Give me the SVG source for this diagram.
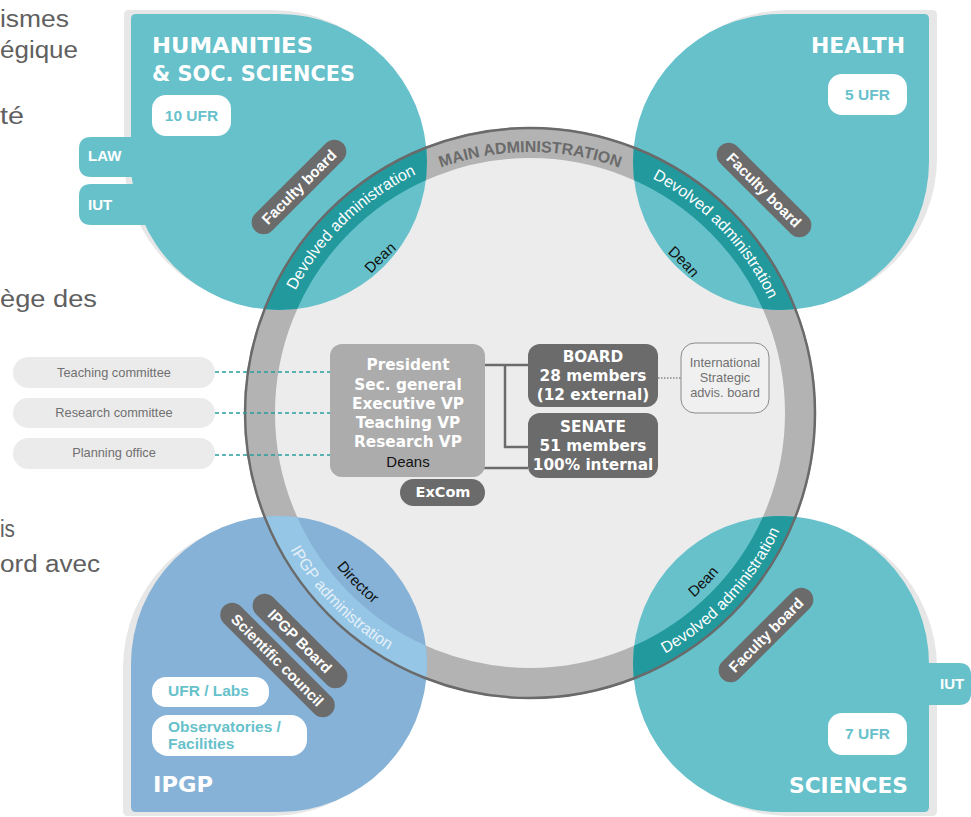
<svg xmlns="http://www.w3.org/2000/svg" xmlns:xlink="http://www.w3.org/1999/xlink" width="971" height="817" viewBox="0 0 971 817">
<defs>
<style>
.bg{font-family:"Liberation Sans",Arial,sans-serif;font-size:23px;fill:#606060}
.title{font-family:"DejaVu Sans",sans-serif;font-weight:bold;font-size:22px;fill:#fff}
.tab{font-family:"Liberation Sans",Arial,sans-serif;font-weight:bold;font-size:15px;fill:#fff}
.ufr{font-family:"Liberation Sans",Arial,sans-serif;font-weight:bold;font-size:15.5px;fill:#67c1cb}
.pill{fill:#6b6b6b}
.ptxt{font-family:"Liberation Sans",Arial,sans-serif;font-weight:bold;font-size:15px;fill:#fff;text-anchor:middle}
.band{font-family:"Liberation Sans",Arial,sans-serif;font-size:16px;fill:#fff;text-anchor:middle}
.dean{font-family:"Liberation Sans",Arial,sans-serif;font-size:15px;fill:#111;text-anchor:middle}
.main{font-family:"Liberation Sans",Arial,sans-serif;font-weight:bold;font-size:16px;fill:#6b6b6b;text-anchor:middle}
.ctr{font-family:"DejaVu Sans",sans-serif;font-weight:bold;font-size:15.3px;fill:#fff;text-anchor:middle}
.cmt{font-family:"Liberation Sans",Arial,sans-serif;font-size:12.8px;fill:#707070;text-anchor:middle}
.lobe{fill:#67c1cb}
.shadow{fill:#e7e7e7}
.cpill{fill:#ebebeb}
.dash{stroke:#2a9d9f;stroke-width:1.5;stroke-dasharray:4 3;fill:none}
.conn{stroke:#6b6b6b;stroke-width:2.5;fill:none}
</style>
<path id="lobeH" d="M 136 14 H 279 A 148 148 0 1 1 131 162 V 19 Q 131 14 136 14 Z"/>
<path id="lobeHe" d="M 780 14 H 924 Q 929 14 929 19 V 162 A 148 148 0 1 1 780 14 Z"/>
<path id="lobeS" d="M 929 664 V 807 Q 929 812 924 812 H 780 A 148 148 0 1 1 929 664 Z"/>
<path id="lobeI" d="M 279 812 H 136 Q 131 812 131 807 V 664 A 148 148 0 1 1 279 812 Z"/>
<clipPath id="clipH"><use xlink:href="#lobeH" href="#lobeH"/></clipPath>
<clipPath id="clipHe"><use xlink:href="#lobeHe" href="#lobeHe"/></clipPath>
<clipPath id="clipS"><use xlink:href="#lobeS" href="#lobeS"/></clipPath>
<clipPath id="clipI"><use xlink:href="#lobeI" href="#lobeI"/></clipPath>
<path id="cw261" d="M 269 413 A 261 261 0 1 1 791 413 A 261 261 0 1 1 269 413"/>
<path id="cw264" d="M 265.5 413 A 264.5 264.5 0 1 1 794.5 413 A 264.5 264.5 0 1 1 265.5 413"/>
<path id="cw212" d="M 319 413 A 211 211 0 1 1 741 413 A 211 211 0 1 1 319 413"/>
<path id="ccw276" d="M 254 413 A 276 276 0 1 0 806 413 A 276 276 0 1 0 254 413"/>
<path id="ccw247" d="M 283 413 A 247 247 0 1 0 777 413 A 247 247 0 1 0 283 413"/>
</defs>

<g id="background-text">
<text class="bg" x="0" y="27" textLength="69" lengthAdjust="spacingAndGlyphs">ismes</text>
<text class="bg" x="0" y="58" textLength="78" lengthAdjust="spacingAndGlyphs">égique</text>
<text class="bg" x="0" y="124" textLength="24" lengthAdjust="spacingAndGlyphs">té</text>
<text class="bg" x="0" y="307" textLength="97" lengthAdjust="spacingAndGlyphs">ège des</text>
<text class="bg" x="0" y="537" textLength="15" lengthAdjust="spacingAndGlyphs">is</text>
<text class="bg" x="0" y="572" textLength="100" lengthAdjust="spacingAndGlyphs">ord avec</text>
</g>

<g id="shadows">
<use xlink:href="#lobeH" href="#lobeH" class="shadow" transform="translate(-7,-4)"/>
<use xlink:href="#lobeHe" href="#lobeHe" class="shadow" transform="translate(8,-4)"/>
<use xlink:href="#lobeS" href="#lobeS" class="shadow" transform="translate(8,4)"/>
<use xlink:href="#lobeI" href="#lobeI" class="shadow" transform="translate(-8,4)"/>
</g>

<g id="tabs">
<path class="lobe" d="M 170 137 H 91 Q 79 137 79 149 V 165 Q 79 177 91 177 H 170 Z"/>
<path class="lobe" d="M 170 184 H 91 Q 79 184 79 196 V 213 Q 79 225 91 225 H 170 Z"/>
<path class="lobe" d="M 900 663 H 959 Q 971 663 971 675 V 693 Q 971 705 959 705 H 900 Z"/>
</g>

<g id="main-administration">
<circle cx="530" cy="413" r="258" fill="#ececec"/>
<circle cx="530" cy="413" r="270.5" fill="none" stroke="#b3b3b3" stroke-width="31"/>
</g>

<g id="lobes">
<use xlink:href="#lobeH" href="#lobeH" class="lobe"/>
<use xlink:href="#lobeHe" href="#lobeHe" class="lobe"/>
<use xlink:href="#lobeS" href="#lobeS" class="lobe"/>
<use xlink:href="#lobeI" href="#lobeI" fill="#85b2d6"/>
<g clip-path="url(#clipH)"><circle cx="530" cy="413" r="270.5" fill="none" stroke="#21999d" stroke-width="31"/></g>
<g clip-path="url(#clipHe)"><circle cx="530" cy="413" r="270.5" fill="none" stroke="#21999d" stroke-width="31"/></g>
<g clip-path="url(#clipS)"><circle cx="530" cy="413" r="270.5" fill="none" stroke="#21999d" stroke-width="31"/></g>
<g clip-path="url(#clipI)"><circle cx="530" cy="413" r="270.5" fill="none" stroke="#96c6e6" stroke-width="31"/></g>
</g>
<circle cx="530" cy="413" r="285" fill="none" stroke="#6a6a6a" stroke-width="2.5"/>
<text class="main"><textPath xlink:href="#cw261" href="#cw261" startOffset="410">MAIN ADMINISTRATION</textPath></text>

<g id="humanities">
<text class="title" x="152" y="53" textLength="161" lengthAdjust="spacingAndGlyphs">HUMANITIES</text>
<text class="title" x="152" y="81" textLength="203" lengthAdjust="spacingAndGlyphs">&amp; SOC. SCIENCES</text>
<rect x="152" y="95" width="79" height="41" rx="14" fill="#fff"/>
<text class="ufr" x="191.5" y="121" text-anchor="middle">10 UFR</text>
<text class="tab" x="88" y="161">LAW</text>
<text class="tab" x="88" y="210">IUT</text>
<g transform="translate(299,187) rotate(-45)">
<rect class="pill" x="-62" y="-12" width="124" height="24" rx="12"/>
<text class="ptxt" x="0" y="5.4">Faculty board</text>
</g>
<text class="band"><textPath xlink:href="#cw264" href="#cw264" startOffset="212.4">Devolved administration</textPath></text>
<text class="dean"><textPath xlink:href="#cw212" href="#cw212" startOffset="169.4">Dean</textPath></text>
</g>

<g id="health">
<text class="title" x="905" y="53" text-anchor="end" textLength="94" lengthAdjust="spacingAndGlyphs">HEALTH</text>
<rect x="828" y="74" width="79" height="41" rx="14" fill="#fff"/>
<text class="ufr" x="867.5" y="100" text-anchor="middle">5 UFR</text>
<g transform="translate(764,190) rotate(45)">
<rect class="pill" x="-62" y="-12" width="124" height="24" rx="12"/>
<text class="ptxt" x="0" y="5.4">Faculty board</text>
</g>
<text class="band"><textPath xlink:href="#cw264" href="#cw264" startOffset="627.8">Devolved administration</textPath></text>
<text class="dean"><textPath xlink:href="#cw212" href="#cw212" startOffset="498.6">Dean</textPath></text>
</g>

<g id="sciences">
<text class="title" x="908" y="793" text-anchor="end" textLength="119" lengthAdjust="spacingAndGlyphs">SCIENCES</text>
<rect x="828" y="713" width="79" height="42" rx="14" fill="#fff"/>
<text class="ufr" x="867.5" y="739" text-anchor="middle">7 UFR</text>
<text class="tab" x="940" y="689">IUT</text>
<g transform="translate(766,635) rotate(-45)">
<rect class="pill" x="-62" y="-12" width="124" height="24" rx="12"/>
<text class="ptxt" x="0" y="5.4">Faculty board</text>
</g>
<text class="band"><textPath xlink:href="#ccw276" href="#ccw276" startOffset="659.9">Devolved administration</textPath></text>
<text class="dean"><textPath xlink:href="#ccw247" href="#ccw247" startOffset="585">Dean</textPath></text>
</g>

<g id="ipgp">
<text class="title" x="153" y="792" textLength="60" lengthAdjust="spacingAndGlyphs">IPGP</text>
<rect x="152" y="677" width="117" height="30" rx="14" fill="#fff"/>
<text class="ufr" x="168" y="696">UFR / Labs</text>
<rect x="152" y="715" width="155" height="41" rx="16" fill="#fff"/>
<text class="ufr" x="168" y="732">Observatories /</text>
<text class="ufr" x="168" y="749">Facilities</text>
<g transform="translate(300,641) rotate(45)">
<rect class="pill" x="-62" y="-12" width="124" height="24" rx="12"/>
<text class="ptxt" x="0" y="5.4">IPGP Board</text>
</g>
<g transform="translate(277.5,660) rotate(45)">
<rect class="pill" x="-76" y="-12" width="152" height="24" rx="12"/>
<text class="ptxt" x="0" y="5.4">Scientific council</text>
</g>
<text class="band" style="fill:#e3f0f9"><textPath xlink:href="#ccw276" href="#ccw276" startOffset="213.9">IPGP administration</textPath></text>
<text class="dean"><textPath xlink:href="#ccw247" href="#ccw247" startOffset="191.8">Director</textPath></text>
</g>

<g id="committees">
<rect class="cpill" x="13" y="357" width="202" height="31" rx="15.5"/>
<text class="cmt" x="114" y="377">Teaching committee</text>
<rect class="cpill" x="13" y="398" width="202" height="30" rx="15"/>
<text class="cmt" x="114" y="417">Research committee</text>
<rect class="cpill" x="13" y="438" width="202" height="31" rx="15.5"/>
<text class="cmt" x="114" y="456.5">Planning office</text>
</g>

<g id="connectors">
<path class="dash" d="M 215 372 H 330"/>
<path class="dash" d="M 215 413 H 330"/>
<path class="dash" d="M 215 455 H 330"/>
<path class="conn" d="M 460 365 H 528"/>
<path class="conn" d="M 505 365 V 447 H 528"/>
<path class="conn" d="M 460 468 H 528"/>
<path d="M 658 378 H 681" stroke="#888" stroke-width="1.5" stroke-dasharray="1.5 1.5" fill="none"/>
</g>

<g id="executive">
<rect x="330" y="344" width="155" height="133" rx="12" fill="#acacac"/>
<text class="ctr" x="408" y="370">President</text>
<text class="ctr" x="408" y="390">Sec. general</text>
<text class="ctr" x="408" y="409">Executive VP</text>
<text class="ctr" x="408" y="428">Teaching VP</text>
<text class="ctr" x="408" y="447">Research VP</text>
<text x="408" y="467" font-family="Liberation Sans, Arial, sans-serif" font-size="15" fill="#111" text-anchor="middle">Deans</text>
</g>

<g id="excom">
<rect x="400" y="479" width="85" height="27" rx="13.5" fill="#6b6b6b"/>
<text class="ctr" x="443" y="497" style="font-size:14.5px">ExCom</text>
</g>

<g id="board">
<rect x="528" y="344" width="130" height="63" rx="12" fill="#6b6b6b"/>
<text class="ctr" x="593" y="362">BOARD</text>
<text class="ctr" x="593" y="381">28 members</text>
<text class="ctr" x="593" y="400">(12 external)</text>
</g>

<g id="senate">
<rect x="528" y="413" width="130" height="65" rx="12" fill="#6b6b6b"/>
<text class="ctr" x="593" y="432">SENATE</text>
<text class="ctr" x="593" y="451">51 members</text>
<text class="ctr" x="593" y="470">100% internal</text>
</g>

<g id="intl-board">
<rect x="681" y="343" width="88" height="70" rx="14" fill="#f0f0f0" stroke="#8a8a8a" stroke-width="1"/>
<text class="cmt" x="725" y="366.5">International</text>
<text class="cmt" x="725" y="381.5">Strategic</text>
<text class="cmt" x="725" y="396.5">advis. board</text>
</g>
</svg>
